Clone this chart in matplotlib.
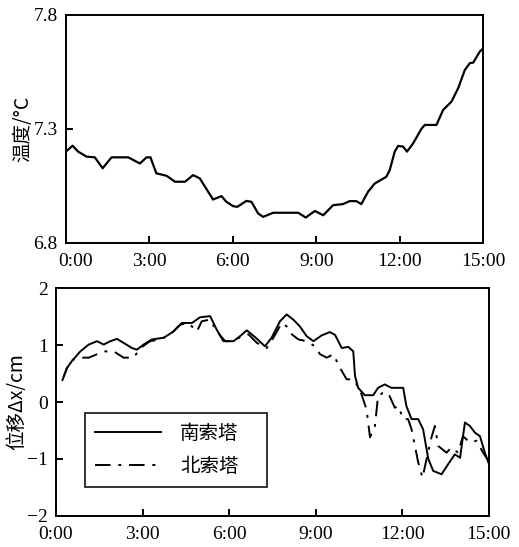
import matplotlib
matplotlib.use("Agg")
import matplotlib.pyplot as plt
import matplotlib.transforms as mtransforms

# ---- data ----
temp_h = [0, 0.24, 0.44, 0.74, 1.04, 1.32, 1.46, 1.64, 2.24, 2.66, 2.90, 3.04, 3.25, 3.62, 3.92,
          4.28, 4.57, 4.81, 5.29, 5.59, 5.77, 6.01, 6.16, 6.49, 6.67, 6.91, 7.09, 7.45, 8.35,
          8.62, 8.95, 9.25, 9.60, 9.96, 10.20, 10.44, 10.62, 10.86, 11.10, 11.52, 11.64, 11.82,
          11.94, 12.12, 12.26, 12.48, 12.78, 12.90, 13.32, 13.56, 13.86, 14.10, 14.34, 14.52,
          14.64, 14.88, 14.97]
temp_v = [7.20, 7.226, 7.20, 7.178, 7.175, 7.127, 7.148, 7.175, 7.175, 7.148, 7.175, 7.175, 7.105,
          7.094, 7.068, 7.068, 7.097, 7.083, 6.99, 7.005, 6.98, 6.961, 6.958, 6.984, 6.98, 6.929,
          6.914, 6.932, 6.932, 6.911, 6.94, 6.921, 6.965, 6.97, 6.983, 6.983, 6.97, 7.024, 7.06,
          7.09, 7.119, 7.20, 7.225, 7.222, 7.20, 7.236, 7.30, 7.317, 7.317, 7.383, 7.419, 7.478,
          7.558, 7.588, 7.59, 7.639, 7.649]

south_h = [0.27, 0.38, 0.55, 0.84, 1.13, 1.42, 1.65, 1.88, 2.11, 2.34, 2.63, 2.80, 3.03, 3.32, 3.73,
           4.07, 4.36, 4.71, 4.99, 5.34, 5.57, 5.80, 6.15, 6.38, 6.61, 6.90, 7.24, 7.47, 7.76, 7.99,
           8.22, 8.45, 8.68, 8.92, 9.20, 9.49, 9.67, 9.90, 10.13, 10.30, 10.36, 10.47, 10.70, 10.99,
           11.16, 11.39, 11.62, 12.03, 12.14, 12.32, 12.55, 12.72, 12.90, 13.07, 13.36, 13.59, 13.82,
           14.00, 14.17, 14.34, 14.52, 14.69, 14.86, 14.98]
south_v = [0.455, 0.60, 0.72, 0.89, 1.01, 1.07, 1.01, 1.07, 1.11, 1.04, 0.95, 0.92, 1.01, 1.10, 1.13,
           1.24, 1.39, 1.39, 1.49, 1.51, 1.27, 1.07, 1.07, 1.16, 1.26, 1.14, 0.98, 1.13, 1.42, 1.54,
           1.45, 1.33, 1.16, 1.07, 1.17, 1.23, 1.18, 0.95, 0.97, 0.89, 0.46, 0.25, 0.12, 0.12,
           0.25, 0.31, 0.25, 0.25, -0.07, -0.30, -0.30, -0.48, -1.00, -1.21, -1.27, -1.09, -0.92,
           -0.98, -0.36, -0.42, -0.54, -0.60, -0.89, -1.06]

north_h = [0.21, 0.38, 0.55, 0.84, 1.13, 1.42, 1.65, 2.0, 2.34, 2.69, 2.92, 3.26, 3.61, 3.96, 4.30,
           4.59, 4.88, 5.05, 5.34, 5.57, 5.86, 6.15, 6.44, 6.67, 6.96, 7.30, 7.53, 7.82, 7.99, 8.17,
           8.40, 8.68, 8.97, 9.15, 9.38, 9.61, 9.84, 10.07, 10.30, 10.53, 10.76, 10.88, 11.05, 11.16,
           11.33, 11.51, 11.74, 11.86, 12.03, 12.20, 12.32, 12.55, 12.70, 12.84, 13.01, 13.13, 13.24,
           13.53, 13.70, 13.93, 14.10, 14.34, 14.57, 14.80, 14.94]
north_v = [0.37, 0.60, 0.74, 0.78, 0.78, 0.84, 0.89, 0.89, 0.78, 0.78, 0.95, 1.07, 1.10, 1.19, 1.36,
           1.39, 1.24, 1.42, 1.45, 1.24, 1.07, 1.07, 1.16, 1.19, 1.04, 0.95, 1.13, 1.39, 1.33, 1.19,
           1.10, 1.07, 0.98, 0.84, 0.78, 0.84, 0.60, 0.40, 0.40, 0.22, -0.13, -0.62, -0.42, 0.11,
           0.16, 0.16, -0.10, -0.07, -0.30, -0.30, -0.48, -1.06, -1.33, -1.00, -0.62, -0.42, -0.77,
           -0.89, -0.80, -0.89, -0.60, -0.71, -0.68, -0.89, -1.00]

x_ticks = [0, 3, 6, 9, 12, 15]
x_labels = ["0:00", "3:00", "6:00", "9:00", "12:00", "15:00"]
temp_ticks = [6.8, 7.3, 7.8]
disp_ticks = [-2, -1, 0, 1, 2]
series_names = ["南索塔", "北索塔"]

# ---- style ----
plt.rcParams['font.family'] = ['Liberation Serif', 'Noto Sans CJK SC', 'DejaVu Sans']
cjk = ['Noto Sans CJK SC', 'Liberation Serif', 'DejaVu Sans']

fig = plt.figure(figsize=(5.19, 5.47), dpi=100)
ax1 = fig.add_axes([0.127, 0.556, 0.804, 0.417])
ax2 = fig.add_axes([0.108, 0.057, 0.834, 0.416])

for ax in (ax1, ax2):
    for s in ax.spines.values():
        s.set_linewidth(1.4)
    ax.tick_params(direction='in', length=5, width=1.4, labelsize=14)
    ax.tick_params(axis='x', pad=7)
    ax.tick_params(axis='y', pad=6)
    ax.set_xlim(0, 15)
    ax.set_xticks(x_ticks)
    ax.set_xticklabels(x_labels)

ax1.plot(temp_h, temp_v, color='black', lw=1.6)
ax1.set_ylim(6.8, 7.8)
ax1.set_yticks(temp_ticks)
ax1.set_yticklabels([f"{t:.1f}" for t in temp_ticks])
ax1.set_ylabel("温度/°C", fontsize=14, family=cjk, labelpad=0)

# shift first x label of top axes slightly right (as in reference)
first = ax1.get_xticklabels()[0]
first.set_transform(first.get_transform() + mtransforms.ScaledTranslation(10/100, 0, fig.dpi_scale_trans))

ax2.plot(south_h, south_v, color='black', lw=1.4, label=series_names[0])
ax2.plot(north_h, north_v, color='black', lw=1.4, dashes=(8, 4, 1.5, 4), label=series_names[1])
ax2.set_ylim(-2, 2)
ax2.set_yticks(disp_ticks)
ax2.set_yticklabels(["\u22122", "\u22121", "0", "1", "2"])
ax2.set_ylabel("位移Δx/cm", fontsize=14, family=cjk, labelpad=0)

leg = ax2.legend(loc='upper left', bbox_to_anchor=(0.067, 0.45, 0.42, 0.0), mode='expand',
                 borderaxespad=0,
                 prop={'family': cjk, 'size': 14}, frameon=True, fancybox=False,
                 edgecolor='black', handlelength=3.4, handletextpad=1.0, borderpad=0.5,
                 labelspacing=0.6)
leg.get_frame().set_linewidth(1.4)

fig.savefig("out.png", dpi=100)
